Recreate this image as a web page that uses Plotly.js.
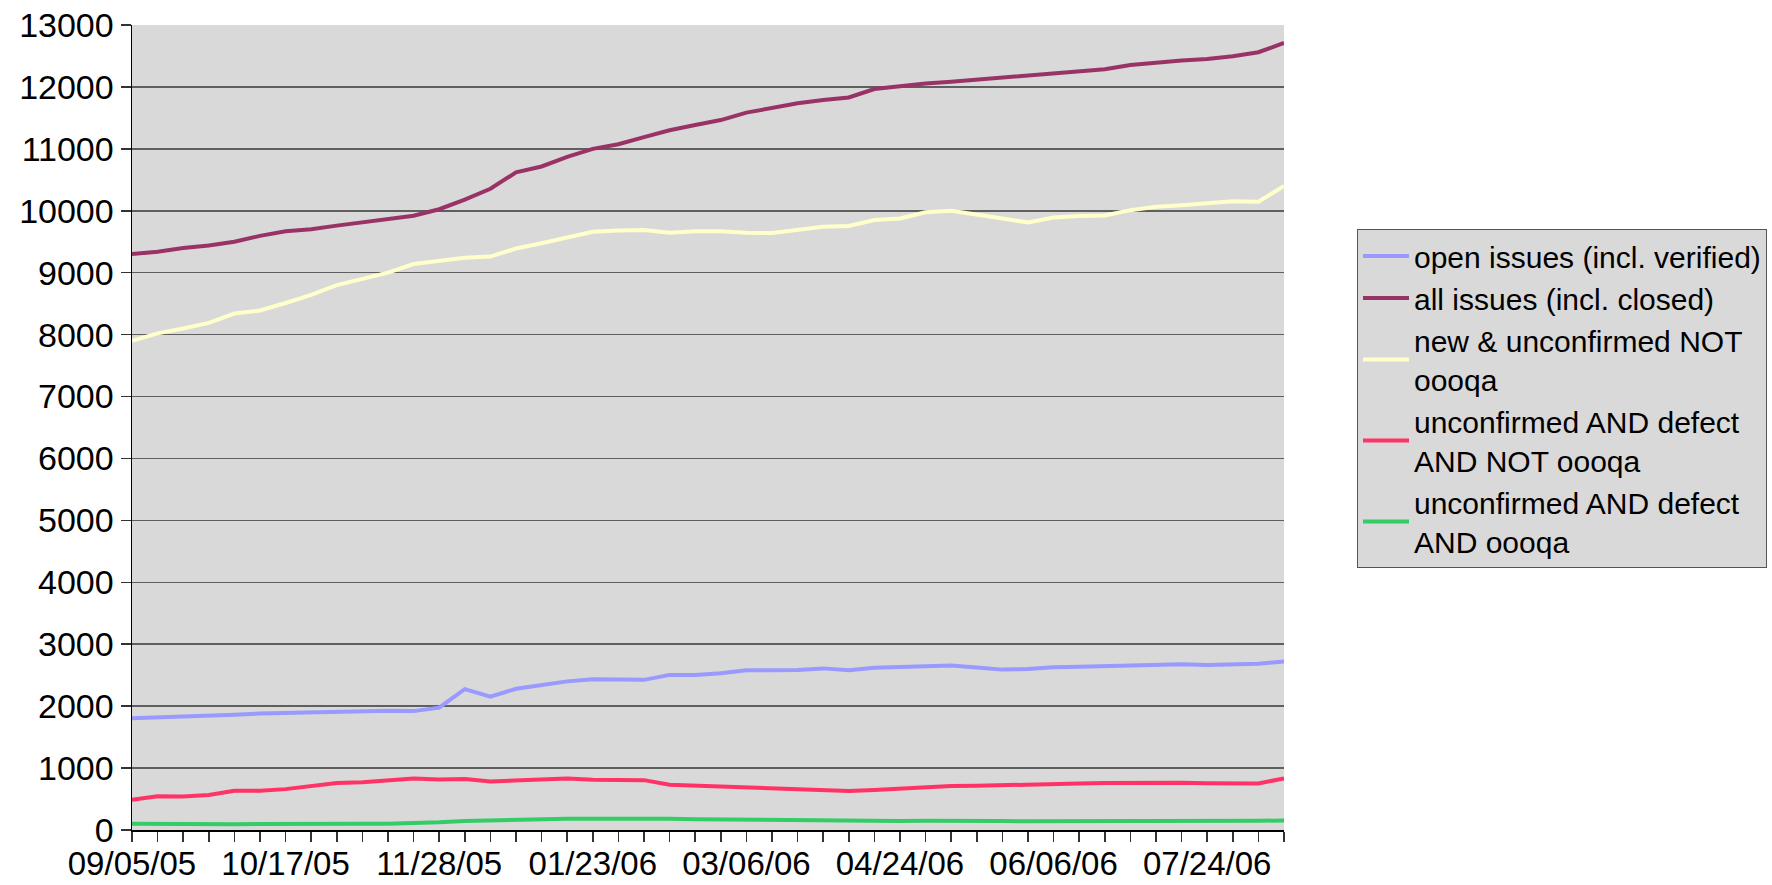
<!DOCTYPE html>
<html>
<head>
<meta charset="utf-8">
<script src="https://cdn.plot.ly/plotly-3.0.1.min.js"></script>
<style>
  html, body { margin: 0; padding: 0; background: #ffffff; }
  #chart { width: 1772px; height: 885px; }
</style>
</head>
<body>
<div id="chart"></div>
<script>
// Category labels (weekly snapshots)
const dates = [
  "09/05/05","09/12/05","09/19/05","09/26/05","10/03/05","10/10/05",
  "10/17/05","10/24/05","10/31/05","11/07/05","11/14/05","11/21/05",
  "11/28/05","12/05/05","12/12/05","12/19/05","01/02/06","01/09/06",
  "01/23/06","01/30/06","02/06/06","02/13/06","02/20/06","02/27/06",
  "03/06/06","03/13/06","03/20/06","03/27/06","04/03/06","04/10/06",
  "04/24/06","05/01/06","05/08/06","05/15/06","05/22/06","05/29/06",
  "06/06/06","06/12/06","06/19/06","06/26/06","07/03/06","07/17/06",
  "07/24/06","07/31/06","08/07/06","08/14/06"
];

const openIssues = [
  1805,1815,1825,1850,1860,1880,1890,1890,1910,1925,1925,1920,
  1975,2275,2155,2280,2335,2400,2435,2425,2425,2505,2505,2530,
  2580,2580,2585,2610,2580,2620,2630,2645,2655,2625,2590,2600,
  2630,2635,2645,2665,2670,2675,2665,2675,2685,2720
];

const allIssues = [
  9300,9340,9400,9440,9500,9595,9670,9700,9760,9815,9870,9920,
  10025,10180,10355,10620,10715,10870,11000,11075,11190,11300,11385,11465,
  11585,11665,11735,11790,11830,11965,12015,12055,12085,12120,12150,12180,
  12230,12255,12285,12355,12395,12425,12450,12495,12560,12710
];

const newUnconfirmed = [
  7900,8020,8100,8190,8340,8390,8510,8640,8800,8905,9000,9140,
  9195,9240,9260,9390,9475,9575,9660,9680,9690,9645,9670,9670,
  9645,9640,9690,9740,9755,9850,9875,9975,10000,9945,9875,9810,
  9890,9915,9925,10010,10065,10090,10115,10155,10145,10400
];

const unconfDefectNotQa = [
  490,545,540,565,635,635,660,715,760,770,800,830,
  815,825,785,805,820,830,812,815,805,730,715,705,
  690,675,650,645,630,645,665,695,710,715,720,730,
  745,750,757,763,772,765,755,752,752,833
];

const unconfDefectQa = [
  102,97,91,91,91,97,102,102,102,102,102,108,
  124,145,156,172,177,183,183,183,194,183,175,170,
  165,160,155,150,145,145,145,148,150,148,145,140,
  140,145,148,140,135,138,138,143,148,155
];

const seriesNames = [
  "open issues (incl. verified)",
  "all issues (incl. closed)",
  "new & unconfirmed NOT<br>oooqa",
  "unconfirmed AND defect<br>AND NOT oooqa",
  "unconfirmed AND defect<br>AND oooqa"
];

const seriesColors = ["#9999ff", "#993366", "#ffffcc", "#ff3366", "#33cc66"];
const seriesValues = [openIssues, allIssues, newUnconfirmed, unconfDefectNotQa, unconfDefectQa];

const tickLabels = dates.map((d, i) => (i % 6 === 0 ? d : ""));

const traces = seriesValues.map((vals, k) => ({
  type: "scatter",
  mode: "lines",
  x: dates,
  y: vals,
  name: seriesNames[k],
  line: { color: seriesColors[k], width: 4 },
  hoverinfo: "x+y+name"
}));

const W = 1772, H = 885;
const plotL = 132, plotR = 1284, plotT = 25, plotB = 830;

const layout = {
  width: W,
  height: H,
  paper_bgcolor: "#ffffff",
  plot_bgcolor: "#d9d9d9",
  margin: { l: plotL, r: W - plotR, t: plotT, b: H - plotB, pad: 0, autoexpand: false },
  font: { family: "Liberation Sans, Arial, sans-serif", size: 34, color: "#000000" },
  showlegend: true,
  legend: {
    x: (1357 - plotL) / (plotR - plotL),
    xanchor: "left",
    y: 1 - (229 - plotT) / (plotB - plotT),
    yanchor: "top",
    bgcolor: "#d9d9d9",
    bordercolor: "#555555",
    borderwidth: 1,
    font: { family: "Liberation Sans, Arial, sans-serif", size: 30, color: "#000000" },
    tracegroupgap: 0,
    itemwidth: 46
  },
  xaxis: {
    type: "category",
    range: [0, dates.length - 1],
    tickmode: "array",
    tickvals: dates,
    ticktext: tickLabels,
    tickangle: 0,
    ticks: "outside",
    ticklen: 10,
    tickwidth: 1.5,
    tickcolor: "#333333",
    ticklabelstandoff: -6,
    showgrid: false,
    showline: true,
    linecolor: "#000000",
    linewidth: 1.5,
    zeroline: false,
    fixedrange: true,
    tickfont: { family: "Liberation Sans, Arial, sans-serif", size: 33, color: "#000000" }
  },
  yaxis: {
    range: [0, 13000],
    tickmode: "linear",
    tick0: 0,
    dtick: 1000,
    ticks: "outside",
    ticklen: 10,
    tickwidth: 1.5,
    tickcolor: "#333333",
    showgrid: true,
    gridcolor: "#5f5f5f",
    gridwidth: 1.5,
    showline: true,
    linecolor: "#000000",
    linewidth: 1.5,
    zeroline: false,
    fixedrange: true,
    tickformat: "d",
    tickfont: { family: "Liberation Sans, Arial, sans-serif", size: 34, color: "#000000" }
  }
};

Plotly.newPlot("chart", traces, layout, { displayModeBar: false, staticPlot: true });
</script>
</body>
</html>
